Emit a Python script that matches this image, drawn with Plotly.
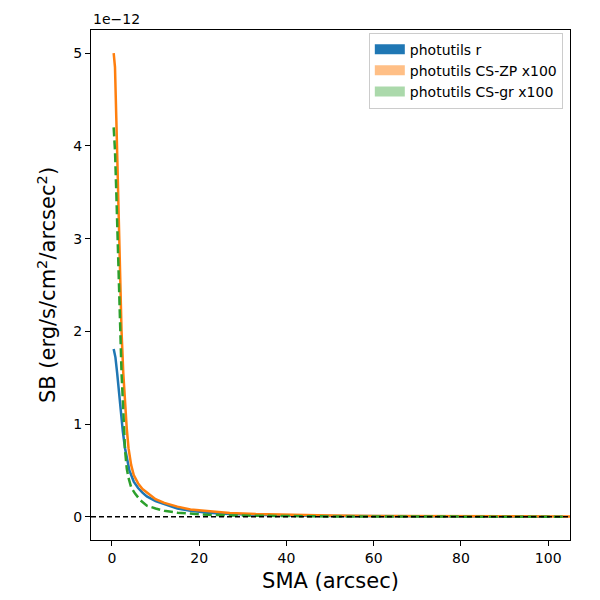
import plotly.graph_objects as go

# surface brightness profiles, in units of 1e-12 erg/s/cm^2/arcsec^2
sma_r = [0.4, 0.8, 1.2, 1.6, 2.0, 2.5, 3.0, 3.5, 4.0, 5.0, 6.0, 7.0, 8.0,
         10, 12, 15, 18, 22, 27, 33, 40, 50, 60, 70, 80, 90, 100]
sb_r = [1.81, 1.72, 1.55, 1.33, 1.12, 0.92, 0.74, 0.60, 0.50, 0.38, 0.31,
        0.26, 0.22, 0.17, 0.135, 0.09, 0.065, 0.045, 0.03, 0.021, 0.015,
        0.01, 0.007, 0.005, 0.0035, 0.0025, 0.002]

sma_zp = [0.4, 0.7, 1.0, 1.3, 1.6, 1.9, 2.2, 2.6, 3.0, 3.4, 3.8, 4.4, 5.0,
          6.0, 7.0, 8.5, 10, 12, 15, 18, 22, 27, 33, 40, 50, 60, 70, 80,
          90, 100, 110]
sb_zp = [5.0, 4.85, 4.3, 3.7, 3.1, 2.5, 2.0, 1.55, 1.2, 0.95, 0.74, 0.56,
         0.45, 0.36, 0.30, 0.24, 0.19, 0.15, 0.11, 0.08, 0.06, 0.042, 0.03,
         0.021, 0.014, 0.01, 0.007, 0.005, 0.004, 0.003, 0.003]

sma_gr = [0.4, 0.7, 1.0, 1.3, 1.6, 1.9, 2.2, 2.6, 3.0, 3.4, 3.8, 4.4, 5.3,
          6.5, 8.0, 10, 12, 15, 18, 22, 27, 33, 40, 50, 60, 70, 80, 90, 104]
sb_gr = [4.2, 3.95, 3.5, 2.95, 2.4, 1.95, 1.55, 1.15, 0.72, 0.52, 0.42,
         0.32, 0.25, 0.18, 0.12, 0.09, 0.065, 0.045, 0.032, 0.022, 0.015,
         0.01, 0.007, 0.004, 0.003, 0.002, 0.0015, 0.001, 0.001]

x_ticks = [0, 20, 40, 60, 80, 100]
y_ticks = [0, 1, 2, 3, 4, 5]

BLUE = "#1f77b4"
ORANGE = "#ff7f0e"
GREEN = "#2ca02c"

fig = go.Figure()

fig.add_trace(go.Scatter(x=sma_r, y=sb_r, mode="lines",
                         line=dict(color=BLUE, width=2.5), showlegend=False))
fig.add_trace(go.Scatter(x=sma_zp, y=sb_zp, mode="lines",
                         line=dict(color=ORANGE, width=2.5), showlegend=False))
fig.add_trace(go.Scatter(x=sma_gr, y=sb_gr, mode="lines",
                         line=dict(color=GREEN, width=2.5, dash="9px,4px"),
                         showlegend=False))

# legend patches
for name, col in [
        ("photutils r", BLUE),
        ("photutils CS-ZP x100", "rgba(255,127,14,0.5)"),
        ("photutils CS-gr x100", "rgba(44,160,44,0.4)"),
]:
    fig.add_trace(go.Scatter(x=[None], y=[None], mode="lines", name=name,
                             line=dict(color=col, width=10)))

fig.add_shape(type="line", xref="paper", yref="y", x0=0, x1=1, y0=0, y1=0,
              line=dict(color="black", width=1.5, dash="5px,3px"))

fig.add_annotation(text="1e\u221212", xref="paper", yref="paper", x=0, y=1,
                   xanchor="left", yanchor="bottom", showarrow=False,
                   font=dict(size=14, color="black"), yshift=1)

axis_common = dict(showline=True, linecolor="black", linewidth=1, mirror=True,
                   ticks="outside", ticklen=5, tickcolor="black",
                   showgrid=False, zeroline=False,
                   tickfont=dict(size=14, color="black"))

fig.update_xaxes(range=[-4.8, 105], tickvals=x_ticks,
                 title=dict(text="SMA (arcsec)", font=dict(size=21, color="black"),
                            standoff=8),
                 **axis_common)
fig.update_yaxes(range=[-0.25, 5.25], tickvals=y_ticks,
                 title=dict(text="SB (erg/s/cm<sup>2</sup>/arcsec<sup>2</sup>)",
                            font=dict(size=21, color="black"), standoff=11),
                 **axis_common)

fig.update_layout(
    width=600, height=600,
    margin=dict(l=91, r=30, t=30, b=60),
    paper_bgcolor="white", plot_bgcolor="white",
    font=dict(family="DejaVu Sans", color="black"),
    legend=dict(x=0.985, y=0.995, xanchor="right", yanchor="top",
                bgcolor="rgba(255,255,255,0.8)", bordercolor="#cccccc",
                borderwidth=1, font=dict(size=14), itemwidth=30),
)

fig.write_html("out.html", config={"displayModeBar": False},
               post_script="document.body.style.margin='0';")
